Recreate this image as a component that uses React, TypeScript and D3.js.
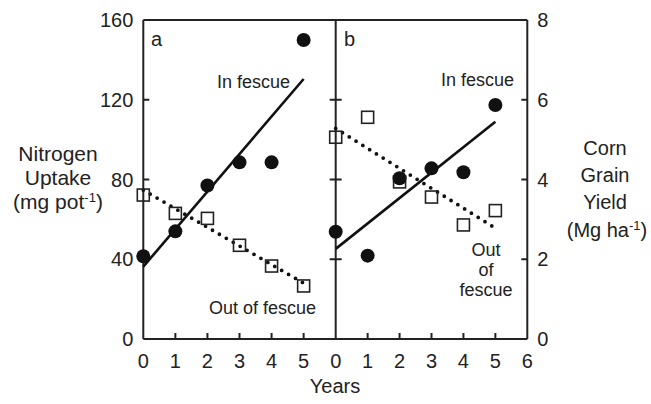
import React from "react";
import * as d3 from "d3";

const years = [0, 1, 2, 3, 4, 5];
const xTicksA = [0, 1, 2, 3, 4, 5];
const xTicksB = [0, 1, 2, 3, 4, 5, 6];
const yTicksLeft = [0, 40, 80, 120, 160];
const yTicksRight = [0, 2, 4, 6, 8];

const uptakeIn = [41.5, 54, 77, 88.6, 88.6, 150];
const uptakeOut = [72.2, 63, 60.5, 47, 36.6, 26.6];
const fitYears = [0, 5];
const uptakeInFit = [36.3, 130.4];
const uptakeOutFit = [74.7, 28];

const yieldIn = [2.69, 2.09, 4.03, 4.28, 4.18, 5.87];
const yieldOut = [5.06, 5.56, 3.94, 3.56, 2.86, 3.22];
const yieldInFit = [2.26, 5.45];
const yieldOutFit = [5.28, 2.78];

const leftTitle = ["Nitrogen", "Uptake"];
const rightTitle = ["Corn", "Grain", "Yield"];

const FONT = "'Liberation Sans', Arial, Helvetica, sans-serif";

export default function App() {
  const top = 20;
  const bottom = 339;
  const xA = d3.scaleLinear().domain([0, 6]).range([143.3, 335.7]);
  const xB = d3.scaleLinear().domain([0, 6]).range([335.7, 527.3]);
  const yL = d3.scaleLinear().domain([0, 160]).range([bottom, top]);
  const yR = d3.scaleLinear().domain([0, 8]).range([bottom, top]);

  const lineA = d3
    .line<[number, number]>()
    .x((d) => xA(d[0]))
    .y((d) => yL(d[1]));
  const lineB = d3
    .line<[number, number]>()
    .x((d) => xB(d[0]))
    .y((d) => yR(d[1]));

  const zip = (xs: number[], ys: number[]) =>
    xs.map((x, i) => [x, ys[i]] as [number, number]);

  const axisW = 2;
  const tickLen = 6;
  const sq = 12;
  const r = 7;

  return (
    <svg
      width={651}
      height={404}
      style={{ position: "absolute", left: 0, top: 0, background: "#fff" }}
      fontFamily={FONT}
    >
      <rect x={0} y={0} width={651} height={404} fill="#fff" />
      {/* frame */}
      <g stroke="#222" strokeWidth={axisW} fill="none">
        <line x1={xA(0)} x2={xB(6)} y1={top} y2={top} />
        <line x1={xA(0)} x2={xB(6)} y1={bottom} y2={bottom} />
        <line x1={xA(0)} x2={xA(0)} y1={top} y2={bottom} />
        <line x1={xB(0)} x2={xB(0)} y1={top} y2={bottom} />
        <line x1={xB(6)} x2={xB(6)} y1={top} y2={bottom} />
        {yTicksLeft.slice(1, -1).map((t) => (
          <line key={"l" + t} x1={xA(0)} x2={xA(0) + tickLen} y1={yL(t)} y2={yL(t)} />
        ))}
        {yTicksRight.slice(1, -1).map((t) => (
          <line key={"m" + t} x1={xB(0) - tickLen} x2={xB(0) + tickLen} y1={yR(t)} y2={yR(t)} />
        ))}
        {yTicksRight.slice(1, -1).map((t) => (
          <line key={"r" + t} x1={xB(6) - tickLen} x2={xB(6)} y1={yR(t)} y2={yR(t)} />
        ))}
        {xTicksA.slice(1).map((t) => (
          <line key={"xa" + t} x1={xA(t)} x2={xA(t)} y1={bottom} y2={bottom - tickLen} />
        ))}
        {xTicksB.slice(1, -1).map((t) => (
          <line key={"xb" + t} x1={xB(t)} x2={xB(t)} y1={bottom} y2={bottom - tickLen} />
        ))}
      </g>

      {/* tick labels */}
      <g fontSize={20} fill="#222">
        {yTicksLeft.map((t) => (
          <text key={"tl" + t} x={xA(0) - 10} y={yL(t)} textAnchor="end" dominantBaseline="central">
            {t}
          </text>
        ))}
        {yTicksRight.map((t) => (
          <text key={"tr" + t} x={xB(6) + 10} y={yR(t)} textAnchor="start" dominantBaseline="central">
            {t}
          </text>
        ))}
        {xTicksA.map((t) => (
          <text key={"txa" + t} x={xA(t)} y={368} textAnchor="middle">
            {t}
          </text>
        ))}
        {xTicksB.map((t) => (
          <text key={"txb" + t} x={xB(t)} y={368} textAnchor="middle">
            {t}
          </text>
        ))}
      </g>

      {/* axis titles */}
      <g fontSize={21} fill="#222" textAnchor="middle">
        {leftTitle.map((s, i) => (
          <text key={s} x={58} y={161 + i * 24}>
            {s}
          </text>
        ))}
        <text x={58} y={161 + 2 * 24}>
          (mg pot<tspan dy={-7} fontSize={13}>-1</tspan>
          <tspan dy={7}>)</tspan>
        </text>
      </g>
      <g fontSize={20} fill="#222" textAnchor="middle">
        {rightTitle.map((s, i) => (
          <text key={s} x={605} y={155 + i * 27}>
            {s}
          </text>
        ))}
        <text x={607} y={156 + 3 * 27}>
          (Mg ha<tspan dy={-7} fontSize={13}>-1</tspan>
          <tspan dy={7}>)</tspan>
        </text>
        <text x={335} y={393}>Years</text>
      </g>

      {/* panel labels */}
      <g fontSize={20} fill="#222">
        <text x={151} y={46}>a</text>
        <text x={344} y={46}>b</text>
      </g>

      {/* annotations */}
      <g fontSize={18} fill="#222">
        <text x={290} y={88} textAnchor="end">In fescue</text>
        <text x={514} y={86} textAnchor="end">In fescue</text>
        <text x={209} y={314}>Out of fescue</text>
        <text x={486} y={256} textAnchor="middle">Out</text>
        <text x={486} y={276} textAnchor="middle">of</text>
        <text x={486} y={296} textAnchor="middle">fescue</text>
      </g>

      {/* panel a */}
      <path
        d={lineA(zip(fitYears, uptakeOutFit)) || ""}
        stroke="#111"
        strokeWidth={3.8}
        strokeDasharray="0 8"
        strokeLinecap="round"
        fill="none"
      />
      {years.map((x, i) => (
        <rect
          key={"sa" + i}
          x={xA(x) - sq / 2}
          y={yL(uptakeOut[i]) - sq / 2}
          width={sq}
          height={sq}
          fill="none"
          stroke="#222"
          strokeWidth={1.6}
        />
      ))}
      <path d={lineA(zip(fitYears, uptakeInFit)) || ""} stroke="#111" strokeWidth={2.6} fill="none" />
      {years.map((x, i) => (
        <circle key={"ca" + i} cx={xA(x)} cy={yL(uptakeIn[i])} r={r} fill="#111" />
      ))}

      {/* panel b */}
      <path
        d={lineB(zip(fitYears, yieldOutFit)) || ""}
        stroke="#111"
        strokeWidth={3.8}
        strokeDasharray="0 8"
        strokeLinecap="round"
        fill="none"
      />
      {years.map((x, i) => (
        <rect
          key={"sb" + i}
          x={xB(x) - sq / 2}
          y={yR(yieldOut[i]) - sq / 2}
          width={sq}
          height={sq}
          fill="none"
          stroke="#222"
          strokeWidth={1.6}
        />
      ))}
      <path d={lineB(zip(fitYears, yieldInFit)) || ""} stroke="#111" strokeWidth={2.6} fill="none" />
      {years.map((x, i) => (
        <circle key={"cb" + i} cx={xB(x)} cy={yR(yieldIn[i])} r={r} fill="#111" />
      ))}
    </svg>
  );
}
